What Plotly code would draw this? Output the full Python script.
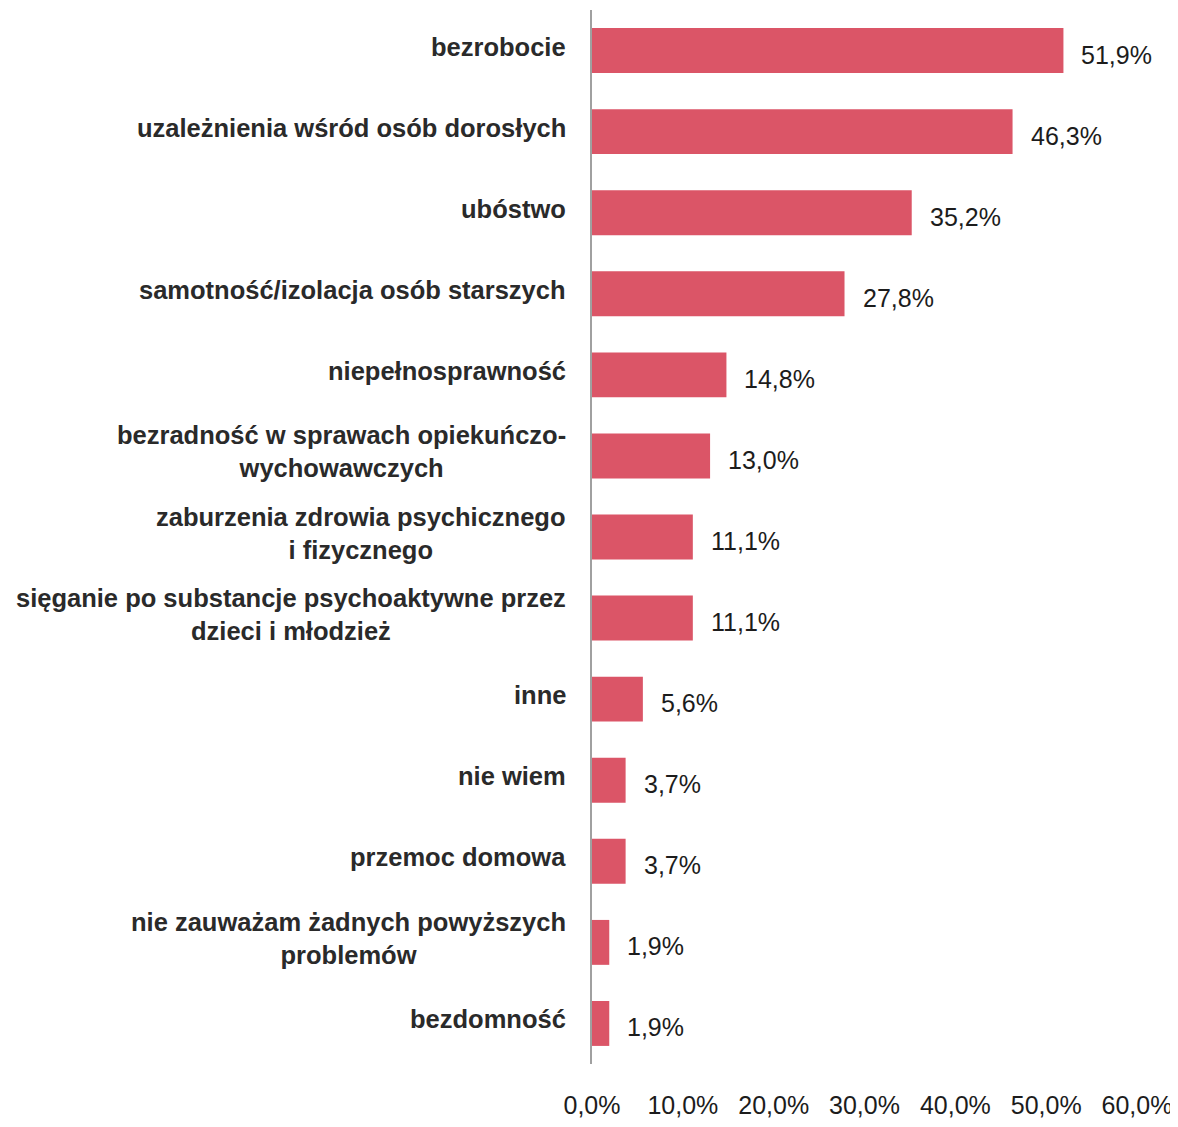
import plotly.graph_objects as go

categories = [
    "bezrobocie",
    "uzależnienia wśród osób dorosłych",
    "ubóstwo",
    "samotność/izolacja osób starszych",
    "niepełnosprawność",
    "bezradność w sprawach opiekuńczo-<br>wychowawczych",
    "zaburzenia zdrowia psychicznego<br>i fizycznego",
    "sięganie po substancje psychoaktywne przez<br>dzieci i młodzież",
    "inne",
    "nie wiem",
    "przemoc domowa",
    "nie zauważam żadnych powyższych<br>problemów",
    "bezdomność",
]
values = [51.9, 46.3, 35.2, 27.8, 14.8, 13.0, 11.1, 11.1, 5.6, 3.7, 3.7, 1.9, 1.9]
tick_values = [0, 10, 20, 30, 40, 50, 60]
tick_labels = [f"{t:.1f}%".replace(".", ",") for t in tick_values]

BAR_COLOR = "#DB5567"
TEXT_COLOR = "#1c1c1c"
FONT = "Liberation Sans, Arial, sans-serif"

fig = go.Figure(
    go.Bar(
        x=values,
        y=categories,
        orientation="h",
        marker=dict(color=BAR_COLOR, line=dict(width=0)),
        hoverinfo="skip",
    )
)

annotations = []
for c, v in zip(categories, values):
    annotations.append(dict(
        x=v, y=c, xref="x", yref="y",
        text=f"{v:.1f}%".replace(".", ","),
        xanchor="left", yanchor="middle", xshift=16, yshift=-4,
        showarrow=False,
        font=dict(size=25, color=TEXT_COLOR, family=FONT),
    ))
    annotations.append(dict(
        x=0, y=c, xref="x", yref="y",
        text=f"<b>{c}</b>",
        xanchor="right", yanchor="middle", xshift=-24, yshift=4,
        align="center",
        showarrow=False,
        font=dict(size=25.5, color="#2a2a2a", family=FONT),
    ))

fig.update_layout(
    width=1178,
    height=1127,
    margin=dict(l=584, r=49, t=2, b=71),
    paper_bgcolor="white",
    plot_bgcolor="white",
    showlegend=False,
    bargap=0.446,
    font=dict(family=FONT, size=25, color=TEXT_COLOR),
    annotations=annotations,
    xaxis=dict(
        range=[0, 60],
        tickvals=tick_values,
        ticktext=tick_labels,
        showgrid=False,
        zeroline=False,
        showline=False,
        ticks="",
        ticklabelstandoff=24,
        tickfont=dict(size=25, color=TEXT_COLOR, family=FONT),
    ),
    yaxis=dict(
        autorange="reversed",
        showticklabels=False,
        showgrid=False,
        zeroline=False,
        showline=True,
        linecolor="#a0a0a0",
        linewidth=2,
        ticks="",
    ),
)

fig.write_html("out.html")
